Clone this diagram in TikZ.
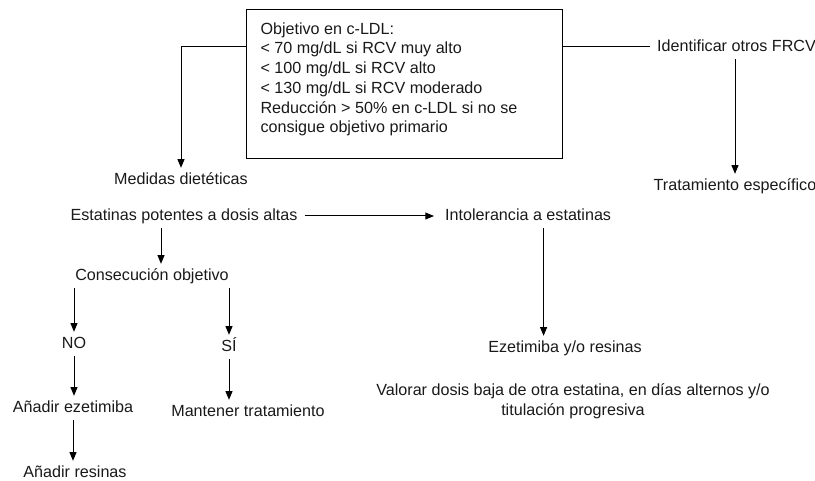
\documentclass[tikz,border=0pt]{standalone}
\usepackage{fontspec}
\setmainfont{Liberation Sans}
\usetikzlibrary{arrows.meta}

\tikzset{
	txt/.style={inner xsep=5pt, inner ysep=3pt, text=black!90, text height=9pt, text depth=2.5pt, font=\fontsize{12.1}{14.8}\selectfont},
	txtblock/.style={inner sep=0pt, text=black!90, font=\fontsize{12.1}{14.8}\selectfont},
	arr/.style={-{Triangle[length=6.5pt,width=5.2pt]}},
}

\begin{document}
\begin{tikzpicture}[x=0.75pt,y=-0.75pt,line width=0.75pt]
			\useasboundingbox (0,0) rectangle (815,481);
			
			% objective box
			\node[draw, minimum width=237pt, minimum height=111.75pt, inner sep=0pt, anchor=north west] (box) at (246,9) {};
			\node[txtblock, align=left, anchor=north west] (objtxt) at (260,22) {Objetivo en c-LDL:\\< 70 mg/dL si RCV muy alto\\< 100 mg/dL si RCV alto\\< 130 mg/dL si RCV moderado\\Reducción > 50\% en c-LDL si no se\\consigue objetivo primario};
			
			\node[txt, anchor=west] (ident) at (650,47) {Identificar otros FRCV};
			\node[txt] (trat) at (735,186) {Tratamiento específico};
			\node[txt] (med) at (181,180) {Medidas dietéticas};
			\node[txt] (est) at (184,216) {Estatinas potentes a dosis altas};
			\node[txt, anchor=west] (intol) at (438,216) {Intolerancia a estatinas};
			\node[txt] (cons) at (152,276) {Consecución objetivo};
			\node[txt] (no) at (74,344) {NO};
			\node[txt] (si) at (229,347) {SÍ};
			\node[txt] (ezeA) at (73,408) {Añadir ezetimiba};
			\node[txt] (mant) at (248,412) {Mantener tratamiento};
			\node[txt] (res) at (75,473) {Añadir resinas};
			\node[txt] (ezet) at (565,348) {Ezetimiba y/o resinas};
			\node[txtblock, align=center] (val) at (573,401) {Valorar dosis baja de otra estatina, en días alternos y/o\\titulación progresiva};
			
			% connectors
			\draw[arr] (box.west |- ident.west) -| (med.north);
			\draw (box.east |- ident.west) -- (ident.west);
			\draw[arr] (ident.south -| trat.north) -- (trat.north);
			\draw[arr, shorten >=3pt] (est.east) -- (intol.west);
			\draw[arr] ([xshift=6.75pt]cons.north |- est.south) -- ([xshift=6.75pt]cons.north);
			\draw[arr] (cons.south -| no.north) -- (no.north);
			\draw[arr] (cons.south -| si.north) -- (si.north);
			\foreach \a/\b in {no/ezeA, ezeA/res, si/mant}{
				\draw[arr] (\a.south) -- (\a.south |- \b.north);
			}
			\draw[arr] ([xshift=11.6pt]intol.south) -- ([xshift=11.6pt]intol.south |- ezet.north);
\end{tikzpicture}
\end{document}
